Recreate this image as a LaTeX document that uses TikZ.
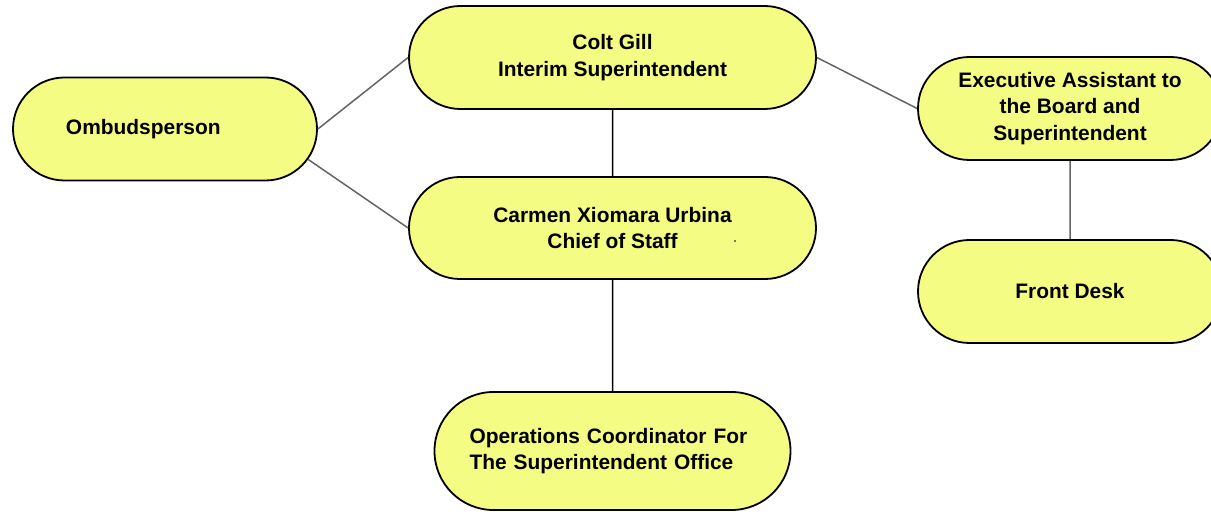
\documentclass[tikz,border=0pt]{standalone}
\usepackage{fontspec}
\setmainfont{Liberation Sans}
\usetikzlibrary{shapes.misc}
\definecolor{boxfill}{RGB}{244,252,132}
\definecolor{linkgray}{RGB}{100,100,100}
\begin{document}
\begin{tikzpicture}[x=1bp,y=-1bp,
	role/.style={draw=black,line width=1.8bp,fill=boxfill,rounded rectangle,minimum height=103bp,inner sep=2bp,align=center,font=\bfseries\fontsize{21}{26.5}\selectfont},
	link/.style={draw=linkgray,line width=1.5bp},
	stem/.style={draw=black,line width=1.5bp}]
	\useasboundingbox (0,0) rectangle (1211,512);

	\node[role,minimum width=308bp,text width=198bp,align=left] (ombud) at (165,129) {Ombudsperson};
	\node[role,minimum width=411bp] (colt) at (612.5,57.5) {Colt Gill\\Interim Superintendent};
	\node[role,minimum width=411bp,minimum height=102bp] (carmen) at (612.5,228) {Carmen Xiomara Urbina\\Chief of Staff};
	\node[role,minimum width=360bp,minimum height=118bp,text width=286bp,align=left] (ops) at (612.5,451) {Operations Coordinator For\\The Superintendent Office};
	\node[role,minimum width=308bp] (exec) at (1070,108.5) {Executive Assistant to\\the Board and\\Superintendent};
	\node[role,minimum width=308bp] (front) at (1070,291.5) {Front Desk};
	\fill (735,241) circle (0.9);

	\draw[link] (ombud.east) -- (colt.west);
	\draw[link] (ombud.-12) -- (carmen.west);
	\draw[link] (colt.east) -- (exec.west);
	\draw[stem] (colt) -- (carmen);
	\draw[stem] (carmen) -- (ops);
	\draw[link] (exec) -- (front);
\end{tikzpicture}
\end{document}
